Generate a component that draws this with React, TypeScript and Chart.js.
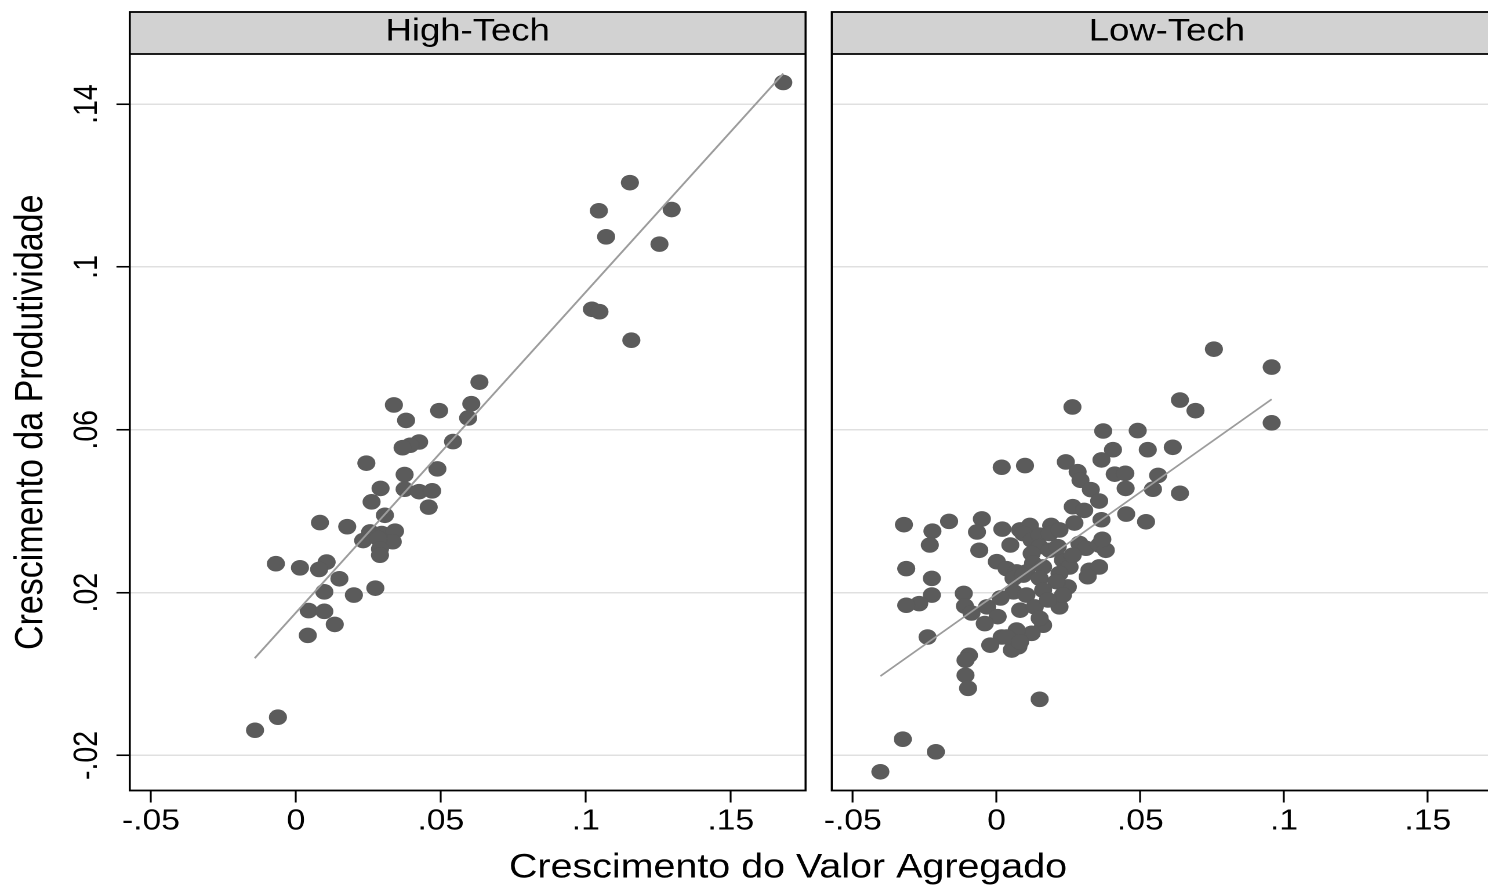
import React, { useEffect, useRef } from 'react';
import { Chart, registerables } from 'chart.js';

Chart.register(...registerables);

// ---------------- data ----------------
const panelTitles = ['High-Tech', 'Low-Tech'];
const xAxisTitle = 'Crescimento do Valor Agregado';
const yAxisTitle = 'Crescimento da Produtividade';

const xTicks = [-0.05, 0, 0.05, 0.1, 0.15];
const xTickLabels = ['-.05', '0', '.05', '.1', '.15'];
const yTicks = [-0.02, 0.02, 0.06, 0.1, 0.14];
const yTickLabels = ['-.02', '.02', '.06', '.1', '.14'];
const xRange = [-0.0573, 0.1758];
const yRange = [-0.0286, 0.1523];

const highTechX = [0.0633, 0.0338, 0.0494, 0.0605, 0.0594, 0.0380, 0.0542, 0.0425, 0.0394, 0.0368, 0.0243, 0.0488, 0.0375, 0.0292, 0.0375, 0.0425, 0.0470, 0.0261, 0.0458, 0.0083, 0.0177, 0.0307, 0.0256, 0.0296, 0.0342, 0.0232, 0.0334, 0.0284, 0.0290, 0.0290, -0.0069, 0.0014, 0.0106, 0.0080, 0.0150, 0.0098, 0.0200, 0.0274, 0.0044, 0.0098, 0.0134, 0.0041, -0.0141, -0.0062, 0.1681, 0.1152, 0.1045, 0.1296, 0.1070, 0.1254, 0.1021, 0.1047, 0.1157];
const highTechY = [0.0717, 0.0661, 0.0647, 0.0664, 0.0629, 0.0623, 0.0571, 0.0570, 0.0562, 0.0556, 0.0518, 0.0504, 0.0490, 0.0456, 0.0454, 0.0448, 0.0450, 0.0423, 0.0410, 0.0372, 0.0362, 0.0390, 0.0349, 0.0345, 0.0351, 0.0328, 0.0325, 0.0333, 0.0307, 0.0292, 0.0271, 0.0261, 0.0275, 0.0257, 0.0234, 0.0202, 0.0194, 0.0211, 0.0156, 0.0154, 0.0122, 0.0095, -0.0138, -0.0106, 0.1453, 0.1207, 0.1138, 0.1141, 0.1074, 0.1056, 0.0896, 0.0890, 0.0820];

const lowTechX = [0.0756, 0.0957, 0.0638, 0.0692, 0.0957, 0.0264, 0.0371, 0.0491, 0.0405, 0.0526, 0.0613, 0.0365, 0.0241, 0.0018, 0.0099, 0.0282, 0.0411, 0.0448, 0.0562, 0.0292, 0.0449, 0.0544, 0.0638, 0.0328, 0.0357, 0.0265, 0.0305, 0.0451, 0.0520, 0.0365, -0.0322, -0.0223, -0.0232, -0.0165, -0.0051, -0.0068, -0.0060, 0.0020, 0.0082, 0.0116, 0.0190, 0.0271, 0.0093, 0.0122, 0.0150, 0.0185, 0.0219, 0.0150, 0.0122, 0.0185, 0.0127, 0.0162, 0.0104, 0.0231, 0.0254, 0.0288, 0.0311, 0.0357, 0.0380, 0.0323, 0.0357, 0.0219, 0.0368, 0.0213, 0.0001, 0.0035, 0.0070, -0.0314, -0.0225, -0.0225, -0.0269, -0.0314, -0.0114, -0.0110, -0.0087, -0.0033, 0.0004, -0.0041, 0.0248, 0.0219, 0.0162, 0.0122, 0.0076, 0.0053, 0.0018, -0.0022, -0.0096, -0.0108, -0.0108, -0.0099, 0.0150, -0.0240, -0.0326, -0.0211, -0.0404, 0.0317, 0.0059, 0.0093, 0.0150, 0.0208, 0.0059, 0.0104, 0.0162, 0.0231, 0.0082, 0.0133, 0.0150, 0.0070, 0.0035, 0.0082, 0.0014, 0.0048, 0.0179, 0.0265];
const lowTechY = [0.0798, 0.0754, 0.0673, 0.0647, 0.0617, 0.0656, 0.0597, 0.0598, 0.0551, 0.0551, 0.0557, 0.0526, 0.0521, 0.0508, 0.0512, 0.0497, 0.0491, 0.0493, 0.0488, 0.0476, 0.0456, 0.0454, 0.0444, 0.0453, 0.0425, 0.0411, 0.0402, 0.0393, 0.0374, 0.0379, 0.0367, 0.0351, 0.0317, 0.0375, 0.0381, 0.0349, 0.0304, 0.0356, 0.0354, 0.0365, 0.0365, 0.0371, 0.0345, 0.0329, 0.0341, 0.0345, 0.0354, 0.0313, 0.0296, 0.0304, 0.0272, 0.0263, 0.0251, 0.0280, 0.0263, 0.0321, 0.0309, 0.0317, 0.0304, 0.0255, 0.0263, 0.0247, 0.0331, 0.0313, 0.0276, 0.0259, 0.0251, 0.0259, 0.0235, 0.0194, 0.0173, 0.0169, 0.0198, 0.0167, 0.0150, 0.0165, 0.0141, 0.0124, 0.0214, 0.0165, 0.0120, 0.0100, 0.0067, 0.0059, 0.0091, 0.0071, 0.0046, 0.0034, -0.0003, -0.0035, -0.0062, 0.0091, -0.0160, -0.0191, -0.0240, 0.0239, 0.0235, 0.0243, 0.0235, 0.0227, 0.0202, 0.0194, 0.0206, 0.0194, 0.0157, 0.0165, 0.0137, 0.0108, 0.0091, 0.0079, 0.0187, 0.0317, 0.0182, 0.0292];

const highTechFitX = [-0.0142, 0.1681];
const highTechFitY = [0.0039, 0.1475];
const lowTechFitX = [-0.0404, 0.0957];
const lowTechFitY = [-0.0005, 0.0675];

// ---------------- layout / style ----------------
const SX = 1.16; // horizontal stretch of the original picture
const H = 891;
const FONT = "'Liberation Sans', Arial, Helvetica, sans-serif";
const STRIP_TOP = 12;
const PLOT_BOTTOM = 790.5;

const A_W = 1359;
const A_AREA_LEFT = 129.8 / SX;
const A_AREA_RIGHT = 805.8 / SX;
const B_LEFT_PX = 812;
const B_W = 603;
const B_AREA_LEFT = (831.8 - B_LEFT_PX) / SX;
const B_AREA_RIGHT = B_AREA_LEFT + (A_AREA_RIGHT - A_AREA_LEFT);

const DOT = '#5b5b5b';
const FIT = '#9c9c9c';
const GRID = '#e0e0e0';

const pts = (xs: number[], ys: number[]) => xs.map((x, i) => ({ x, y: ys[i] }));
const labelFor = (values: number[], labels: string[]) => (v: any) => {
  const i = values.findIndex((t) => Math.abs(t - Number(v)) < 1e-9);
  return i >= 0 ? labels[i] : '';
};

const panelFrame = {
  id: 'panelFrame',
  beforeDraw(chart: any) {
    const { ctx, chartArea: a } = chart;
    ctx.save();
    ctx.fillStyle = '#d2d2d2';
    ctx.fillRect(a.left, STRIP_TOP, a.right - a.left, a.top - STRIP_TOP);
    ctx.restore();
  },
  afterDraw(chart: any) {
    const { ctx, chartArea: a } = chart;
    ctx.save();
    ctx.strokeStyle = '#000';
    ctx.lineWidth = 1.8;
    ctx.strokeRect(a.left, STRIP_TOP, a.right - a.left, a.bottom - STRIP_TOP);
    ctx.beginPath();
    ctx.moveTo(a.left, a.top);
    ctx.lineTo(a.right, a.top);
    ctx.stroke();
    ctx.restore();
  },
};

function xScale(height: number) {
  return {
    type: 'linear',
    position: 'bottom',
    min: xRange[0],
    max: xRange[1],
    bounds: 'data',
    afterBuildTicks: (s: any) => {
      s.ticks = xTicks.map((v) => ({ value: v }));
    },
    afterFit: (s: any) => {
      s.height = height;
    },
    grid: { drawOnChartArea: false, drawTicks: true, tickLength: 12, tickColor: '#000', tickWidth: 1.6, color: '#000' },
    border: { display: false },
    ticks: {
      autoSkip: false,
      minRotation: 0,
      maxRotation: 0,
      padding: 1.8,
      color: '#000',
      font: { family: FONT, size: 29 },
      callback: labelFor(xTicks, xTickLabels),
    },
  };
}

function datasets(xs: number[], ys: number[], fx: number[], fy: number[]) {
  return [
    {
      type: 'scatter',
      data: pts(fx, fy),
      showLine: true,
      pointRadius: 0,
      borderColor: FIT,
      borderWidth: 1.7,
      xAxisID: 'x',
      yAxisID: 'y',
      order: 0,
    },
    {
      type: 'scatter',
      data: pts(xs, ys),
      pointStyle: 'circle',
      pointRadius: 7.8,
      pointBorderWidth: 0,
      pointBackgroundColor: DOT,
      backgroundColor: DOT,
      borderWidth: 0,
      xAxisID: 'x',
      yAxisID: 'y',
      order: 1,
    },
  ];
}

function headerTitle(text: string) {
  return {
    display: true,
    text,
    color: '#000',
    font: { family: FONT, size: 31.5, weight: 'normal' },
    padding: { top: 13.1, bottom: 3.1 },
    fullSize: false,
    align: 'center',
  };
}

function leftConfig(): any {
  return {
    type: 'scatter',
    data: { datasets: datasets(highTechX, highTechY, highTechFitX, highTechFitY) },
    plugins: [panelFrame],
    options: {
      responsive: false,
      animation: false,
      devicePixelRatio: 2,
      events: [],
      layout: { padding: { left: 0, right: 0, top: 0, bottom: 0 } },
      plugins: {
        legend: { display: false },
        tooltip: { enabled: false },
        title: headerTitle(panelTitles[0]),
        subtitle: {
          display: true,
          position: 'bottom',
          text: xAxisTitle,
          color: '#000',
          font: { family: FONT, size: 34, weight: 'normal' },
          padding: { top: 0, bottom: 2.6 },
          fullSize: true,
        },
      },
      scales: {
        x: xScale(57.1),
        y: {
          type: 'linear',
          position: 'left',
          min: yRange[0],
          max: yRange[1],
          bounds: 'data',
          afterBuildTicks: (s: any) => {
            s.ticks = yTicks.map((v) => ({ value: v }));
          },
          afterFit: (s: any) => {
            s.width = A_AREA_LEFT;
          },
          grid: { color: GRID, lineWidth: 1.5, drawTicks: true, tickLength: 11.5, tickColor: '#000', tickWidth: 1.6 },
          border: { display: false },
          ticks: {
            autoSkip: false,
            minRotation: 90,
            maxRotation: 90,
            crossAlign: 'center',
            padding: 0.3,
            color: '#000',
            font: { family: FONT, size: 28.5 },
            callback: labelFor(yTicks, yTickLabels),
          },
          title: {
            display: true,
            text: yAxisTitle,
            color: '#000',
            font: { family: FONT, size: 34, weight: 'normal' },
            padding: { top: 6.6, bottom: 0 },
          },
        },
        pad: {
          type: 'linear',
          position: 'right',
          display: true,
          grid: { display: false, drawTicks: false },
          border: { display: false },
          ticks: { display: false },
          afterFit: (s: any) => {
            s.width = A_W - A_AREA_RIGHT;
          },
        },
      },
    },
  };
}

function rightConfig(): any {
  return {
    type: 'scatter',
    data: { datasets: datasets(lowTechX, lowTechY, lowTechFitX, lowTechFitY) },
    plugins: [panelFrame],
    options: {
      responsive: false,
      animation: false,
      devicePixelRatio: 2,
      events: [],
      layout: { padding: { left: B_AREA_LEFT, right: B_W - B_AREA_RIGHT, top: 0, bottom: 0 } },
      plugins: {
        legend: { display: false },
        tooltip: { enabled: false },
        title: headerTitle(panelTitles[1]),
      },
      scales: {
        x: xScale(H - PLOT_BOTTOM),
        y: {
          type: 'linear',
          position: 'left',
          min: yRange[0],
          max: yRange[1],
          bounds: 'data',
          afterBuildTicks: (s: any) => {
            s.ticks = yTicks.map((v) => ({ value: v }));
          },
          afterFit: (s: any) => {
            s.width = 0;
          },
          grid: { color: GRID, lineWidth: 1.5, drawTicks: false },
          border: { display: false },
          ticks: { display: false },
        },
      },
    },
  };
}

export default function App() {
  const refA = useRef<HTMLCanvasElement | null>(null);
  const refB = useRef<HTMLCanvasElement | null>(null);

  useEffect(() => {
    if (!refA.current || !refB.current) return;
    const a = new Chart(refA.current, leftConfig());
    const b = new Chart(refB.current, rightConfig());
    return () => {
      a.destroy();
      b.destroy();
    };
  }, []);

  return (
    <div
      style={{
        position: 'fixed',
        left: 0,
        top: 0,
        width: 1488,
        height: H,
        overflow: 'hidden',
        background: '#fff',
      }}
    >
      <canvas
        ref={refA}
        width={A_W}
        height={H}
        style={{ position: 'absolute', left: 0, top: 0, width: `${A_W * SX}px`, height: `${H}px` }}
      />
      <canvas
        ref={refB}
        width={B_W}
        height={H}
        style={{ position: 'absolute', left: B_LEFT_PX, top: 0, width: `${B_W * SX}px`, height: `${H}px` }}
      />
    </div>
  );
}
